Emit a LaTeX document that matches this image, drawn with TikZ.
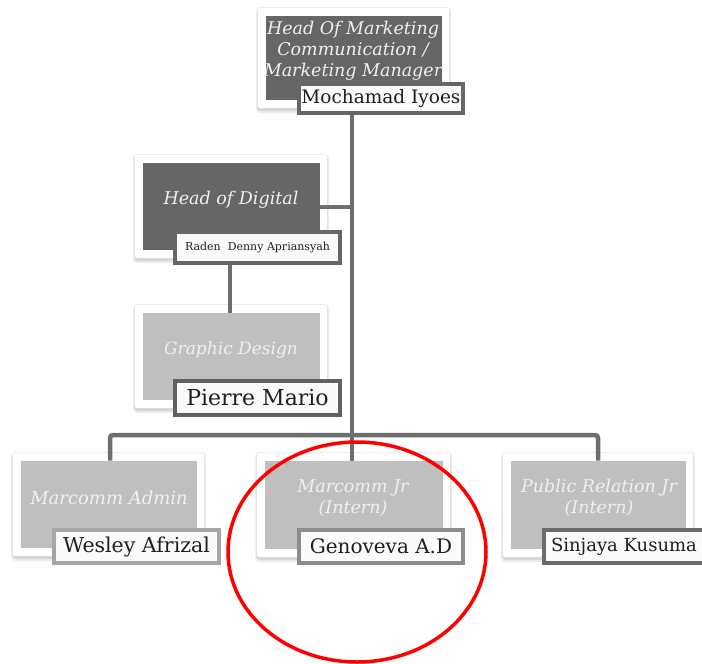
\documentclass[tikz,border=0pt]{standalone}
\usepackage{fontspec}
\setmainfont{DejaVu Serif}
\definecolor{darkbox}{HTML}{666666}
\definecolor{lightbox}{HTML}{BFBFBF}
\definecolor{linegray}{HTML}{6E6E6E}
\tikzset{
  frame/.style={fill=white, draw=none, rounded corners=2pt},
  shadeA/.style={fill=black!7, draw=none, rounded corners=4pt},
  shadeB/.style={fill=black!16, draw=none, rounded corners=3pt},
  darkinner/.style={fill=darkbox, draw=none, inner sep=0pt},
  lightinner/.style={fill=lightbox, draw=none, inner sep=0pt},
  titletext/.style={text=white!94!black, align=center, inner sep=0pt},
  namebox/.style={fill=white!98!black, line width=3.5pt, text=black!88, inner sep=0pt},
  conn/.style={draw=linegray, line width=4.5pt},
}
\newcommand{\orgcard}[6]{%
  \fill[shadeA] (#2-2,#3-1) rectangle (#4+2,#5+5);
  \fill[shadeB] (#2-0.5,#3+1) rectangle (#4+0.5,#5+3);
  \fill[frame] (#2,#3) rectangle (#4,#5);
  \node[#6, minimum width=#4-#2-15, minimum height=#5-#3-16, anchor=north west] (#1) at (#2+7.5,#3+7.5) {};
}
\begin{document}
\begin{tikzpicture}[x=1pt,y=-1pt]
\useasboundingbox (0,0) rectangle (702,664);
\coordinate (busL) at (110,435);
\coordinate (busR) at (598,435);
\coordinate (busM) at (352,435);
\coordinate (hdJ) at (352,207);

% top card
\orgcard{top}{258}{8}{449}{108}{darkinner}
\node[titletext, font=\itshape\fontsize{17.5}{21}\selectfont] (ttop) at (353,51) {Head Of Marketing\\Communication /\\Marketing Manager};
\node[namebox, draw=black!60, minimum width=164pt, minimum height=29pt, font=\fontsize{18.5}{20}\selectfont] (ntop) at (381,98.5) {Mochamad Iyoes};

% head of digital
\orgcard{hod}{135}{155}{327}{258}{darkinner}
\node[titletext, font=\itshape\fontsize{17.5}{20}\selectfont] (thod) at (231,200) {Head of Digital};
\node[namebox, draw=black!60, minimum width=165pt, minimum height=31pt, font=\fontsize{11}{12}\selectfont] (nhod) at (257.5,247.5) {Raden~ Denny Apriansyah};

% graphic design
\orgcard{gd}{135}{305}{327}{408}{lightinner}
\node[titletext, font=\itshape\fontsize{17}{20}\selectfont] (tgd) at (231,350) {Graphic Design};
\node[namebox, draw=black!62, minimum width=165pt, minimum height=34pt, font=\fontsize{22}{24}\selectfont] (ngd) at (257.5,398) {Pierre Mario};

% bottom row
\orgcard{ma}{13}{453}{204}{556}{lightinner}
\node[titletext, font=\itshape\fontsize{18}{20}\selectfont] (tma) at (109,498) {Marcomm Admin};
\node[namebox, draw=black!35, minimum width=165pt, minimum height=33pt, font=\fontsize{20.5}{22}\selectfont] (nma) at (136.5,546.5) {Wesley Afrizal};

\orgcard{mj}{257}{453}{450}{557}{lightinner}
\node[titletext, font=\itshape\fontsize{17.5}{21}\selectfont] (tmj) at (353,498) {Marcomm Jr\\(Intern)};
\node[namebox, draw=black!45, minimum width=164pt, minimum height=33pt, font=\fontsize{20}{22}\selectfont] (nmj) at (381,546.5) {Genoveva A.D};

\orgcard{pr}{503}{453}{693}{557}{lightinner}
\node[titletext, font=\itshape\fontsize{17.5}{21}\selectfont] (tpr) at (599,498) {Public Relation Jr\\(Intern)};
\node[namebox, draw=black!58, minimum width=160pt, minimum height=33pt, font=\fontsize{18}{20}\selectfont] (npr) at (624,546.5) {Sinjaya Kusuma};

% connectors
\draw[conn] (ntop.south -| busM) -- (busM) -- (mj.north -| busM);
\draw[conn] (hod.east |- hdJ) -- (hdJ);
\draw[conn] (nhod.south -| 230,0) -- (gd.north -| 230,0);
\draw[conn, rounded corners=3pt] (ma.north -| busL) -- (busL) -- (busR) -- (pr.north -| busR);

% red ellipse
\draw[red, line width=3.5pt] (357,552) ellipse [x radius=129, y radius=110];
\end{tikzpicture}
\end{document}
